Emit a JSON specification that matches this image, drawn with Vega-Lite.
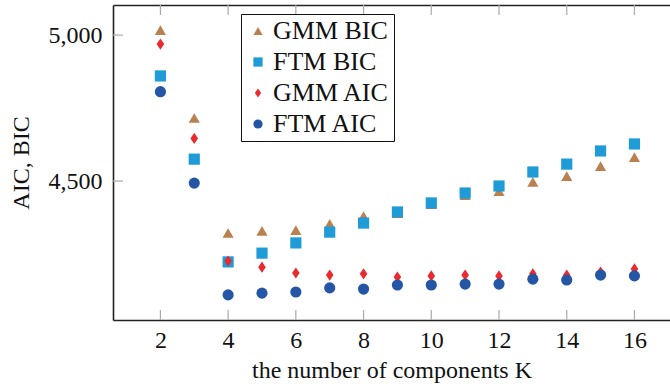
{
  "$schema": "https://vega.github.io/schema/vega-lite/v6.json",
  "width": 557,
  "height": 315,
  "autosize": {"type": "none"},
  "padding": {"left": 113, "top": 5, "right": 0, "bottom": 71},
  "background": "white",
  "config": {
    "view": {"stroke": null},
    "font": "'Liberation Serif', 'DejaVu Serif', serif",
    "axis": {
      "grid": false,
      "ticks": false,
      "domainColor": "#222222",
      "domainWidth": 1.6,
      "labelFont": "'Liberation Serif', 'DejaVu Serif', serif",
      "labelFontSize": 24,
      "labelColor": "#111111",
      "titleFont": "'Liberation Serif', 'DejaVu Serif', serif",
      "titleFontSize": 24,
      "titleFontWeight": "normal",
      "titleColor": "#111111"
    },
    "legend": {
      "orient": "none",
      "legendX": 128,
      "legendY": 9,
      "title": null,
      "strokeColor": "#111111",
      "fillColor": "white",
      "padding": 4,
      "rowPadding": 5,
      "symbolSize": 85,
      "symbolStrokeWidth": 0,
      "labelFont": "'Liberation Serif', 'DejaVu Serif', serif",
      "labelFontSize": 26,
      "labelColor": "#111111",
      "labelOffset": 2
    }
  },
  "datasets": {
    "kTicks": [{"K": 2}, {"K": 4}, {"K": 6}, {"K": 8}, {"K": 10}, {"K": 12}, {"K": 14}, {"K": 16}],
    "vTicks": [{"value": 4500}, {"value": 5000}]
  },
  "data": {
    "values": [
      {"K": 2, "series": "GMM BIC", "value": 5017},
      {"K": 3, "series": "GMM BIC", "value": 4716},
      {"K": 4, "series": "GMM BIC", "value": 4322},
      {"K": 5, "series": "GMM BIC", "value": 4329},
      {"K": 6, "series": "GMM BIC", "value": 4332},
      {"K": 7, "series": "GMM BIC", "value": 4353},
      {"K": 8, "series": "GMM BIC", "value": 4380},
      {"K": 9, "series": "GMM BIC", "value": 4390},
      {"K": 10, "series": "GMM BIC", "value": 4421},
      {"K": 11, "series": "GMM BIC", "value": 4452},
      {"K": 12, "series": "GMM BIC", "value": 4465},
      {"K": 13, "series": "GMM BIC", "value": 4497},
      {"K": 14, "series": "GMM BIC", "value": 4517},
      {"K": 15, "series": "GMM BIC", "value": 4551},
      {"K": 16, "series": "GMM BIC", "value": 4582},
      {"K": 2, "series": "FTM BIC", "value": 4860},
      {"K": 3, "series": "FTM BIC", "value": 4575},
      {"K": 4, "series": "FTM BIC", "value": 4223},
      {"K": 5, "series": "FTM BIC", "value": 4253},
      {"K": 6, "series": "FTM BIC", "value": 4288},
      {"K": 7, "series": "FTM BIC", "value": 4325},
      {"K": 8, "series": "FTM BIC", "value": 4356},
      {"K": 9, "series": "FTM BIC", "value": 4394},
      {"K": 10, "series": "FTM BIC", "value": 4425},
      {"K": 11, "series": "FTM BIC", "value": 4459},
      {"K": 12, "series": "FTM BIC", "value": 4483},
      {"K": 13, "series": "FTM BIC", "value": 4531},
      {"K": 14, "series": "FTM BIC", "value": 4558},
      {"K": 15, "series": "FTM BIC", "value": 4603},
      {"K": 16, "series": "FTM BIC", "value": 4627},
      {"K": 2, "series": "GMM AIC", "value": 4969},
      {"K": 3, "series": "GMM AIC", "value": 4646},
      {"K": 4, "series": "GMM AIC", "value": 4226},
      {"K": 5, "series": "GMM AIC", "value": 4205},
      {"K": 6, "series": "GMM AIC", "value": 4185},
      {"K": 7, "series": "GMM AIC", "value": 4178},
      {"K": 8, "series": "GMM AIC", "value": 4182},
      {"K": 9, "series": "GMM AIC", "value": 4171},
      {"K": 10, "series": "GMM AIC", "value": 4175},
      {"K": 11, "series": "GMM AIC", "value": 4178},
      {"K": 12, "series": "GMM AIC", "value": 4175},
      {"K": 13, "series": "GMM AIC", "value": 4182},
      {"K": 14, "series": "GMM AIC", "value": 4178},
      {"K": 15, "series": "GMM AIC", "value": 4188},
      {"K": 16, "series": "GMM AIC", "value": 4199},
      {"K": 2, "series": "FTM AIC", "value": 4806},
      {"K": 3, "series": "FTM AIC", "value": 4493},
      {"K": 4, "series": "FTM AIC", "value": 4110},
      {"K": 5, "series": "FTM AIC", "value": 4116},
      {"K": 6, "series": "FTM AIC", "value": 4120},
      {"K": 7, "series": "FTM AIC", "value": 4134},
      {"K": 8, "series": "FTM AIC", "value": 4130},
      {"K": 9, "series": "FTM AIC", "value": 4144},
      {"K": 10, "series": "FTM AIC", "value": 4144},
      {"K": 11, "series": "FTM AIC", "value": 4147},
      {"K": 12, "series": "FTM AIC", "value": 4147},
      {"K": 13, "series": "FTM AIC", "value": 4164},
      {"K": 14, "series": "FTM AIC", "value": 4161},
      {"K": 15, "series": "FTM AIC", "value": 4178},
      {"K": 16, "series": "FTM AIC", "value": 4175}
    ]
  },
  "layer": [
    {
      "mark": {"type": "point", "filled": true, "opacity": 1, "size": 125, "strokeWidth": 0},
      "encoding": {
        "x": {
          "field": "K",
          "type": "quantitative",
          "scale": {"domain": [0.6, 17.05], "nice": false, "zero": false},
          "axis": {
            "values": [2, 4, 6, 8, 10, 12, 14, 16],
            "title": "the number of components K",
            "labelPadding": 8,
            "titlePadding": 6
          }
        },
        "y": {
          "field": "value",
          "type": "quantitative",
          "scale": {"domain": [4024, 5103], "nice": false, "zero": false},
          "axis": {
            "values": [4500, 5000],
            "format": ",d",
            "title": "AIC, BIC",
            "labelPadding": 11,
            "titlePadding": 15
          }
        },
        "color": {
          "field": "series",
          "type": "nominal",
          "scale": {
            "domain": ["GMM BIC", "FTM BIC", "GMM AIC", "FTM AIC"],
            "range": ["#ba8050", "#1f9bd7", "#e92a2e", "#2456a5"]
          }
        },
        "shape": {
          "field": "series",
          "type": "nominal",
          "scale": {
            "domain": ["GMM BIC", "FTM BIC", "GMM AIC", "FTM AIC"],
            "range": ["triangle-up", "square", "M0,-1L0.68,0L0,1L-0.68,0Z", "circle"]
          }
        }
      }
    },
    {
      "mark": {"type": "point", "opacity": 0},
      "encoding": {
        "x": {
          "field": "K",
          "type": "quantitative",
          "scale": {"domain": [0.6, 17.05], "nice": false, "zero": false},
          "axis": {
            "orient": "top",
            "values": [2, 4, 6, 8, 10, 12, 14, 16],
            "labels": false,
            "title": null
          }
        }
      }
    },
    {
      "data": {"name": "kTicks"},
      "mark": {"type": "tick", "orient": "vertical", "clip": true, "size": 20, "thickness": 1.2, "color": "#aaaaaa", "opacity": 1},
      "encoding": {
        "x": {"field": "K", "type": "quantitative", "scale": {"domain": [0.6, 17.05], "nice": false, "zero": false}, "axis": null},
        "y": {"datum": 4024, "type": "quantitative"}
      }
    },
    {
      "data": {"name": "kTicks"},
      "mark": {"type": "tick", "orient": "vertical", "clip": true, "size": 20, "thickness": 1.2, "color": "#aaaaaa", "opacity": 1},
      "encoding": {
        "x": {"field": "K", "type": "quantitative", "scale": {"domain": [0.6, 17.05], "nice": false, "zero": false}, "axis": null},
        "y": {"datum": 5103, "type": "quantitative"}
      }
    },
    {
      "data": {"name": "vTicks"},
      "mark": {"type": "tick", "orient": "horizontal", "clip": true, "size": 20, "thickness": 1.2, "color": "#aaaaaa", "opacity": 1},
      "encoding": {
        "x": {"datum": 0.6, "type": "quantitative", "scale": {"domain": [0.6, 17.05], "nice": false, "zero": false}, "axis": null},
        "y": {"field": "value", "type": "quantitative"}
      }
    }
  ],
  "resolve": {"scale": {"x": "independent"}}
}
